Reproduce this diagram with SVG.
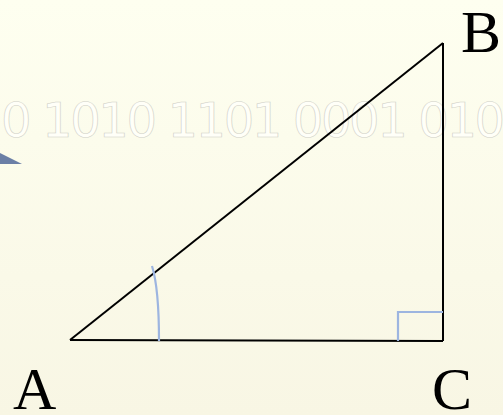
<svg xmlns="http://www.w3.org/2000/svg" width="503" height="415" viewBox="0 0 503 415">
<defs>
<linearGradient id="bg" x1="0" y1="0" x2="0" y2="1">
<stop offset="0" stop-color="#fefff0"/>
<stop offset="1" stop-color="#f8f6e4"/>
</linearGradient>
<style>
.lbl{font-family:"Liberation Serif","Times New Roman",serif;font-size:60px;fill:#000}
.bin{font-family:"DejaVu Sans",sans-serif;font-size:48px;letter-spacing:-2.4px;fill:#fffff8;stroke:#cfcfc6;stroke-width:0.6}
.side{stroke:#000;stroke-width:2;fill:none}
.mark{stroke:#9db5e0;stroke-width:2.2;fill:none}
</style>
</defs>
<rect width="503" height="415" fill="url(#bg)"/>
<text class="bin" x="1" y="137">0 1010 1101 0001 010</text>
<polygon points="0,153 22,164 0,164" fill="#6b7fa6"/>
<g id="connectors">
<line class="side" x1="70" y1="340" x2="443" y2="43"/>
<line class="side" x1="443" y1="43" x2="443" y2="341"/>
<line class="side" x1="70" y1="340" x2="443" y2="341"/>
</g>
<path class="mark" d="M159,341 C159,310 157,282 152,266"/>
<path class="mark" d="M398,341 L398,312 L443,312"/>
<g id="A"><text class="lbl" x="13" y="409">A</text></g>
<g id="B"><text class="lbl" x="461" y="52">B</text></g>
<g id="C"><text class="lbl" x="432" y="409">C</text></g>
</svg>
